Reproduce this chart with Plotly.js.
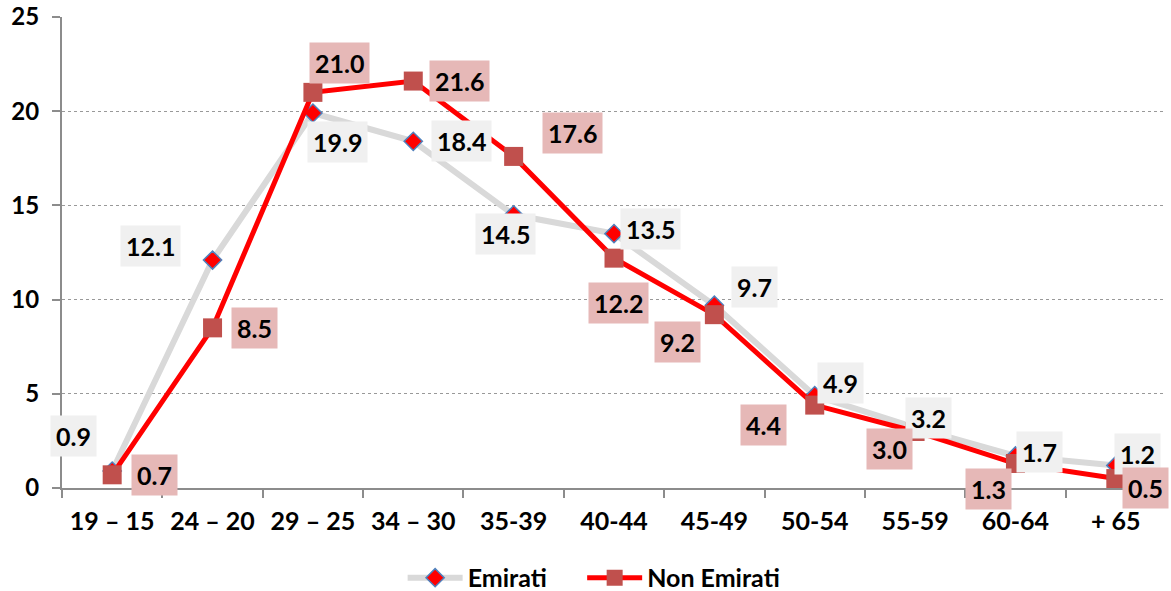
<!DOCTYPE html>
<html>
<head>
<meta charset="utf-8">
<script src="https://cdn.plot.ly/plotly-3.0.1.min.js"></script>
<style>html,body{margin:0;padding:0;background:#fff;}#chart{width:1171px;height:591px;}</style>
</head>
<body>
<div id="chart"></div>
<script>
const categories = ["19 – 15", "24 – 20", "29 – 25", "34 – 30", "35-39", "40-44", "45-49", "50-54", "55-59", "60-64", "+ 65"];
const emirati = [0.9, 12.1, 19.9, 18.4, 14.5, 13.5, 9.7, 4.9, 3.2, 1.7, 1.2];
const nonEmirati = [0.7, 8.5, 21.0, 21.6, 17.6, 12.2, 9.2, 4.4, 3.0, 1.3, 0.5];
const seriesNames = ["Emirati", "Non Emirati"];

// label offsets (pixels, style only)
const emiratiShiftX = [-39, -62, 25, 48, -8, 36, 40, 26, 13, 24, 22];
const emiratiShiftY = [35, 14, -29, 0, -19, 5, 18, 13, 10, 4, 11];
const nonShiftX = [42, 42, 27, 46, 59, 4, -37, -51, -26, -27, 30];
const nonShiftY = [0, 0, 29, 0, 23, -45, -27, -20, -18, -25, -9];

const FONT = "Lato, 'Open Sans', sans-serif";
const PAD = "\u00a0".repeat(5); // legend spacing

const traces = [
  {
    x: categories, y: emirati, name: seriesNames[0] + PAD, type: "scatter", mode: "lines+markers",
    line: {color: "#d9d9d9", width: 6},
    marker: {symbol: "diamond", size: 14, color: "#ff0000", line: {color: "#4f81bd", width: 1.5}},
    cliponaxis: false
  },
  {
    x: categories, y: nonEmirati, name: seriesNames[1], type: "scatter", mode: "lines+markers",
    line: {color: "#ff0000", width: 5},
    marker: {symbol: "square", size: 19, color: "#c0504d", line: {width: 0}},
    cliponaxis: false
  }
];

const annotations = [];
emirati.forEach((v, i) => annotations.push({
  x: categories[i], y: v, xref: "x", yref: "y", text: v.toFixed(1), showarrow: false,
  xshift: emiratiShiftX[i], yshift: emiratiShiftY[i],
  bgcolor: "#f0f0f0", borderpad: 5,
  font: {family: FONT, size: 25, color: "#000", weight: "bold"}
}));
nonEmirati.forEach((v, i) => annotations.push({
  x: categories[i], y: v, xref: "x", yref: "y", text: v.toFixed(1), showarrow: false,
  xshift: nonShiftX[i], yshift: nonShiftY[i],
  bgcolor: "#e6b8b7", borderpad: 5,
  font: {family: FONT, size: 25, color: "#000", weight: "bold"}
}));

const layout = {
  width: 1171, height: 591,
  margin: {l: 62, r: 5, t: 17, b: 103, autoexpand: false},
  paper_bgcolor: "#fff", plot_bgcolor: "#fff",
  font: {family: FONT, size: 24, color: "#000", weight: "bold"},
  showlegend: true,
  legend: {orientation: "h", x: 0.482, xanchor: "center", y: -0.191, yanchor: "middle",
           font: {family: FONT, size: 25, color: "#000", weight: "bold"}, itemwidth: 55},
  xaxis: {
    type: "category", range: [-0.5, categories.length - 0.5], autorange: false,
    tickson: "boundaries", ticks: "outside", ticklen: 8, tickcolor: "#8c8c8c", tickwidth: 2,
    showline: true, linecolor: "#8c8c8c", linewidth: 2, showgrid: false, zeroline: false, automargin: false,
    ticklabelstandoff: 10,
    tickfont: {family: FONT, size: 25, color: "#000", weight: "bold"}, fixedrange: true
  },
  yaxis: {
    range: [0, 25], tickvals: [0, 5, 10, 15, 20, 25], ticks: "outside", ticklen: 8, tickcolor: "#8c8c8c", tickwidth: 2,
    showline: true, linecolor: "#8c8c8c", linewidth: 2, automargin: false, ticklabelstandoff: 8,
    showgrid: true, gridcolor: "#999999", griddash: "dot", gridwidth: 1.3, zeroline: false,
    tickfont: {family: FONT, size: 24, color: "#000", weight: "bold"}, fixedrange: true
  },
  annotations: annotations
};

Plotly.newPlot("chart", traces, layout, {displayModeBar: false, staticPlot: true});
</script>
</body>
</html>
